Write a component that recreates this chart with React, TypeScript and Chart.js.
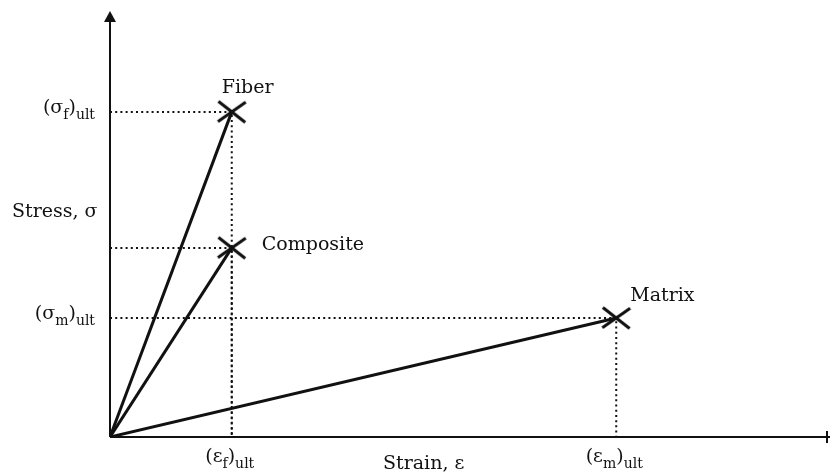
import { useEffect, useRef } from "react";
import { Chart, registerables } from "chart.js";

Chart.register(...registerables);

// Schematic stress–strain curves (arbitrary units, 0–100 on each axis)
const materials = ["Fiber", "Composite", "Matrix"];
const ultimateStrain = [17.1, 17.1, 71.1];
const ultimateStress = [76.5, 44.5, 28.0];

// Axis markers: symbol + subscript, then the "ult" subscript
const stressTickValues = [76.5, 28.0];
const stressTickSubs = ["f", "m"];
const strainTickValues = [17.1, 71.1];
const strainTickSubs = ["f", "m"];

const xAxisTitle = "Strain, ε";
const yAxisTitle = "Stress, σ";

const INK = "#111";
const FONT = "'DejaVu Serif', serif";

type Part = { t: string; sub?: boolean };

function drawParts(ctx: CanvasRenderingContext2D, parts: Part[], x: number, y: number, align: "left" | "right" | "center") {
  const main = `19px ${FONT}`;
  const small = `14px ${FONT}`;
  let total = 0;
  for (const p of parts) {
    ctx.font = p.sub ? small : main;
    total += ctx.measureText(p.t).width;
  }
  let cx = align === "left" ? x : align === "right" ? x - total : x - total / 2;
  ctx.textAlign = "left";
  ctx.textBaseline = "alphabetic";
  for (const p of parts) {
    ctx.font = p.sub ? small : main;
    ctx.fillText(p.t, cx, p.sub ? y + 6 : y);
    cx += ctx.measureText(p.t).width;
  }
}

function crossMarker(): HTMLCanvasElement {
  const c = document.createElement("canvas");
  c.width = 44;
  c.height = 44;
  const g = c.getContext("2d")!;
  g.strokeStyle = INK;
  g.lineWidth = 3;
  g.lineCap = "butt";
  const arm = (deg: number, len: number) => {
    const r = (deg * Math.PI) / 180;
    const dx = Math.cos(r) * len;
    const dy = Math.sin(r) * len;
    g.beginPath();
    g.moveTo(22 - dx, 22 - dy);
    g.lineTo(22 + dx, 22 + dy);
    g.stroke();
  };
  arm(38, 17);
  arm(-35, 17);
  return c;
}

const labelOffsets: Record<string, [number, number, "left" | "center"]> = {
  Fiber: [-10, -19, "left"],
  Composite: [30, 2, "left"],
  Matrix: [14, -17, "left"],
};

const decorations = {
  id: "decorations",
  afterDatasetsDraw(chart: any) {
    const { ctx, chartArea, scales } = chart;
    const xs = scales.x;
    const ys = scales.y;
    const ox = chartArea.left;
    const oy = chartArea.bottom;
    ctx.save();
    ctx.strokeStyle = INK;
    ctx.fillStyle = INK;
    ctx.lineWidth = 2;

    // axes
    ctx.beginPath();
    ctx.moveTo(ox, oy);
    ctx.lineTo(ox, 20);
    ctx.moveTo(ox, oy);
    ctx.lineTo(chart.width, oy);
    ctx.stroke();
    // arrow heads
    ctx.beginPath();
    ctx.moveTo(ox, 11);
    ctx.lineTo(ox - 6, 22);
    ctx.lineTo(ox + 6, 22);
    ctx.closePath();
    ctx.fill();
    ctx.fillRect(chart.width - 4, oy - 6, 2, 12);

    // material labels
    materials.forEach((m, i) => {
      const px = xs.getPixelForValue(ultimateStrain[i]);
      const py = ys.getPixelForValue(ultimateStress[i]);
      const [dx, dy, al] = labelOffsets[m];
      drawParts(ctx, [{ t: m }], px + dx, py + dy, al);
    });

    // stress markers
    stressTickValues.forEach((v, i) => {
      const py = ys.getPixelForValue(v);
      drawParts(ctx, [{ t: "(σ" }, { t: stressTickSubs[i], sub: true }, { t: ")" }, { t: "ult", sub: true }], ox - 15, py + 1, "right");
    });
    // strain markers
    strainTickValues.forEach((v, i) => {
      const px = xs.getPixelForValue(v);
      drawParts(ctx, [{ t: "(ε" }, { t: strainTickSubs[i], sub: true }, { t: ")" }, { t: "ult", sub: true }], px - 2, oy + 25, "center");
    });

    // axis titles
    drawParts(ctx, [{ t: yAxisTitle }], 12, 217, "left");
    drawParts(ctx, [{ t: xAxisTitle }], 383, 469, "left");
    ctx.restore();
  },
};

export default function App() {
  const ref = useRef<HTMLCanvasElement>(null);

  useEffect(() => {
    const marker = crossMarker();
    const curves = materials.map((m, i) => ({
      label: m,
      data: [
        { x: 0, y: 0 },
        { x: ultimateStrain[i], y: ultimateStress[i] },
      ],
      showLine: true,
      borderColor: INK,
      borderWidth: 3,
      pointStyle: [false, marker] as any,
      pointRadius: [0, 16],
      order: 1,
    }));
    const guides = materials.map((m, i) => ({
      label: m + " guide",
      data: [
        { x: 0, y: ultimateStress[i] },
        { x: ultimateStrain[i], y: ultimateStress[i] },
        { x: ultimateStrain[i], y: 0 },
      ],
      showLine: true,
      borderColor: INK,
      borderWidth: 2,
      borderDash: [2, 3.2],
      pointRadius: 0,
      order: 2,
    }));

    const chart = new Chart(ref.current!, {
      type: "scatter",
      data: { datasets: [...guides, ...curves] as any },
      options: {
        animation: false,
        responsive: false,
        layout: { autoPadding: false, padding: { left: 110, right: 8, top: 12, bottom: 38 } },
        plugins: { legend: { display: false }, tooltip: { enabled: false } },
        scales: {
          x: { type: "linear", min: 0, max: 100, display: false },
          y: { type: "linear", min: 0, max: 100, display: false },
        },
      },
      plugins: [decorations],
    });
    return () => chart.destroy();
  }, []);

  return (
    <div style={{ position: "fixed", left: 0, top: 0, width: 830, height: 475, background: "#fff" }}>
      <canvas ref={ref} width={830} height={475} />
    </div>
  );
}
